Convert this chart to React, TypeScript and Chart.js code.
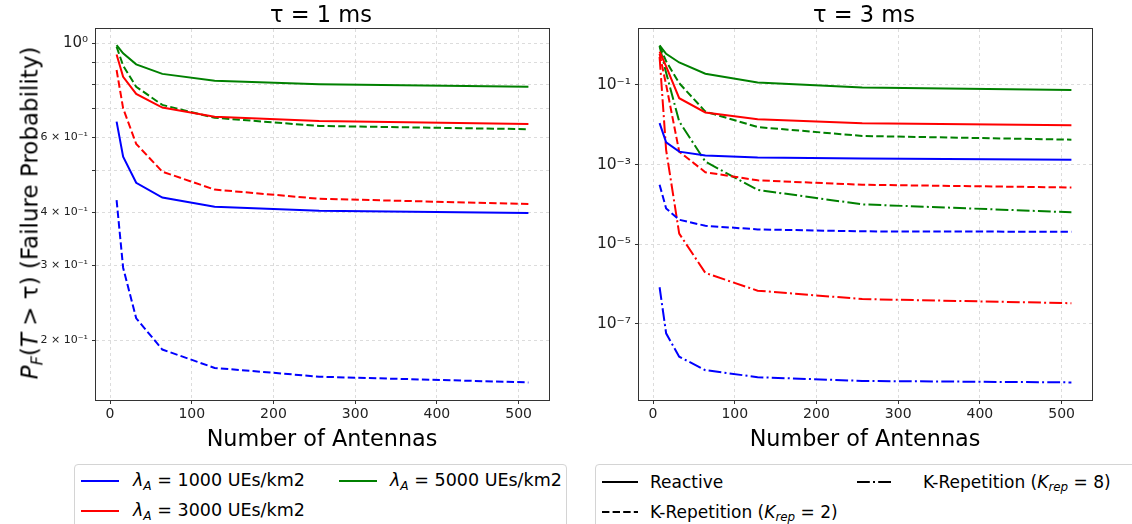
import React, { useEffect, useRef } from "react";
import { Chart, registerables } from "chart.js";
Chart.register(...registerables);

// ---------- data ----------
const antennas = [8, 16, 32, 64, 128, 256, 512];

// tau = 1 ms
const reactive1000_1ms = [0.653, 0.54, 0.469, 0.433, 0.412, 0.403, 0.398];
const reactive3000_1ms = [0.94, 0.833, 0.759, 0.705, 0.671, 0.655, 0.645];
const reactive5000_1ms = [0.989, 0.946, 0.891, 0.846, 0.815, 0.8, 0.789];
const krep2_1000_1ms = [0.427, 0.296, 0.225, 0.19, 0.172, 0.164, 0.159];
const krep2_3000_1ms = [0.864, 0.702, 0.579, 0.498, 0.452, 0.43, 0.418];
const krep2_5000_1ms = [0.98, 0.885, 0.789, 0.715, 0.667, 0.638, 0.627];

// tau = 3 ms
const reactive1000_3ms = [0.0109, 0.0036, 0.0021, 0.00168, 0.00149, 0.00141, 0.00131];
const reactive3000_3ms = [0.68, 0.29, 0.046, 0.0202, 0.01375, 0.0109, 0.0097];
const reactive5000_3ms = [0.98, 0.6, 0.363, 0.189, 0.114, 0.0855, 0.0735];
const krep2_1000_3ms = [3.1e-4, 7.9e-5, 4.1e-5, 2.9e-5, 2.35e-5, 2.1e-5, 2.05e-5];
const krep2_3000_3ms = [0.6, 0.1, 0.0021, 6.4e-4, 4.0e-4, 3.1e-4, 2.65e-4];
const krep2_5000_3ms = [0.95, 0.39, 0.11, 0.0213, 0.0087, 0.0052, 0.0042];
const krep8_1000_3ms = [8.3e-7, 5.8e-8, 1.5e-8, 6.9e-9, 4.6e-9, 3.7e-9, 3.4e-9];
const krep8_3000_3ms = [0.5, 2.3e-3, 1.85e-5, 1.9e-6, 6.8e-7, 4.2e-7, 3.3e-7];
const krep8_5000_3ms = [0.92, 0.2, 0.012, 0.00118, 0.00023, 1.0e-4, 6.3e-5];

// ticks
const xTicks = [0, 100, 200, 300, 400, 500];
const leftYTicks = [0.2, 0.3, 0.4, 0.5, 0.6, 0.7, 0.8, 0.9, 1];
const leftYTickLabels = ["2 × 10⁻¹", "3 × 10⁻¹", "4 × 10⁻¹", "", "6 × 10⁻¹", "", "", "", "10⁰"];
const rightYTicks = [1e-7, 1e-5, 1e-3, 1e-1];
const rightYTickLabels = ["10⁻⁷", "10⁻⁵", "10⁻³", "10⁻¹"];

const titles = ["τ = 1 ms", "τ = 3 ms"];
const xTitle = "Number of Antennas";

// ---------- styles ----------
const FONT = "'DejaVu Sans', sans-serif";
const BLUE = "#0000ff";
const RED = "#ff0000";
const GREEN = "#008000";
const SOLID: number[] = [];
const DASHED = [7.4, 3.2];
const DASHDOT = [12.8, 3.2, 2, 3.2];

const mk = (vals: number[], color: string, dash: number[]) => ({
  data: antennas.map((x, i) => ({ x, y: vals[i] })),
  borderColor: color,
  backgroundColor: color,
  borderWidth: 2,
  borderDash: dash,
  pointRadius: 0,
  fill: false,
  tension: 0,
});

const framePlugin = {
  id: "frame",
  afterDatasetsDraw(chart: any) {
    const { ctx, chartArea: a } = chart;
    ctx.save();
    ctx.strokeStyle = "#333";
    ctx.lineWidth = 1;
    ctx.setLineDash([]);
    ctx.strokeRect(a.left - 0.5, a.top - 0.5, a.width + 1, a.height + 1);
    ctx.restore();
  },
};

function makeConfig(
  datasets: any[],
  yMin: number,
  yMax: number,
  yTicks: number[],
  yLabels: string[],
  yFont: (v: number) => number,
  yWidth: number,
  padRight: number
): any {
  return {
    type: "line",
    data: { datasets },
    plugins: [framePlugin],
    options: {
      animation: false,
      responsive: false,
      maintainAspectRatio: false,
      layout: { padding: { left: 0, top: 29, right: padRight, bottom: 22 } },
      plugins: { legend: { display: false }, tooltip: { enabled: false }, title: { display: false } },
      scales: {
        x: {
          type: "linear",
          min: -17.2,
          max: 537.2,
          bounds: "data",
          afterBuildTicks: (s: any) => {
            s.ticks = xTicks.map((v) => ({ value: v }));
          },
          afterFit: (s: any) => {
            s.height = 30;
          },
          ticks: {
            autoSkip: false,
            maxRotation: 0,
            padding: 2,
            color: "#222",
            font: { family: FONT, size: 14 },
            callback: (v: number) => String(v),
          },
          grid: {
            color: "#dcdcdc",
            lineWidth: 1,
            drawTicks: true,
            tickLength: 4,
            tickColor: "#333",
            tickWidth: 1,
            tickBorderDash: [],
          },
          border: { display: false, dash: [3, 3] },
        },
        y: {
          type: "logarithmic",
          min: yMin,
          max: yMax,
          bounds: "data",
          afterBuildTicks: (s: any) => {
            s.ticks = yTicks.map((v) => ({ value: v }));
          },
          afterFit: (s: any) => {
            s.width = yWidth;
          },
          ticks: {
            autoSkip: false,
            padding: 4,
            color: "#222",
            font: (ctx: any) => ({ family: FONT, size: yFont(ctx.tick ? ctx.tick.value : 1) }),
            callback: (_v: number, i: number) => yLabels[i],
          },
          grid: {
            color: "#dcdcdc",
            lineWidth: 1,
            drawTicks: true,
            tickLength: 4,
            tickColor: "#333",
            tickWidth: 1,
            tickBorderDash: [],
          },
          border: { display: false, dash: [3, 3] },
        },
      },
    },
  };
}

const LineSample = ({ color, dash, width = 38 }: { color: string; dash: number[]; width?: number }) => (
  <svg width={width} height={6} style={{ display: "block" }}>
    <line
      x1={0}
      y1={3}
      x2={width}
      y2={3}
      stroke={color}
      strokeWidth={2}
      strokeDasharray={dash.length ? dash.join(",") : undefined}
    />
  </svg>
);

const sub: React.CSSProperties = { fontSize: "70%", verticalAlign: "-0.3em", lineHeight: 0 };

export default function App() {
  const leftRef = useRef<HTMLCanvasElement | null>(null);
  const rightRef = useRef<HTMLCanvasElement | null>(null);

  useEffect(() => {
    const leftSets = [
      mk(reactive1000_1ms, BLUE, SOLID),
      mk(reactive3000_1ms, RED, SOLID),
      mk(reactive5000_1ms, GREEN, SOLID),
      mk(krep2_1000_1ms, BLUE, DASHED),
      mk(krep2_3000_1ms, RED, DASHED),
      mk(krep2_5000_1ms, GREEN, DASHED),
    ];
    const rightSets = [
      mk(reactive1000_3ms, BLUE, SOLID),
      mk(reactive3000_3ms, RED, SOLID),
      mk(reactive5000_3ms, GREEN, SOLID),
      mk(krep2_1000_3ms, BLUE, DASHED),
      mk(krep2_3000_3ms, RED, DASHED),
      mk(krep2_5000_3ms, GREEN, DASHED),
      mk(krep8_1000_3ms, BLUE, DASHDOT),
      mk(krep8_3000_3ms, RED, DASHDOT),
      mk(krep8_5000_3ms, GREEN, DASHDOT),
    ];
    const c1 = new Chart(
      leftRef.current as HTMLCanvasElement,
      makeConfig(leftSets, Math.pow(10, -0.84), Math.pow(10, 0.033), leftYTicks, leftYTickLabels,
        (v) => (v === 1 ? 15 : 11), 96, 21)
    );
    const c2 = new Chart(
      rightRef.current as HTMLCanvasElement,
      makeConfig(rightSets, Math.pow(10, -8.91), Math.pow(10, 0.4), rightYTicks, rightYTickLabels,
        () => 15.5, 69, 40)
    );
    return () => {
      c1.destroy();
      c2.destroy();
    };
  }, []);

  const abs = (s: React.CSSProperties): React.CSSProperties => ({ position: "absolute", ...s });
  const textBase: React.CSSProperties = { fontFamily: FONT, color: "#000", whiteSpace: "nowrap", lineHeight: 1 };

  return (
    <div style={{ position: "fixed", left: 0, top: 0, width: 1132, height: 524, overflow: "hidden", background: "#fff" }}>
      <canvas ref={leftRef} width={570} height={452} style={abs({ left: 0, top: 0, width: 570, height: 452 })} />
      <canvas ref={rightRef} width={562} height={452} style={abs({ left: 570, top: 0, width: 562, height: 452 })} />

      {/* titles */}
      <div style={abs({ ...textBase, left: 321, top: 14, fontSize: 22.5, transform: "translate(-50%,-50%)" })}>{titles[0]}</div>
      <div style={abs({ ...textBase, left: 864, top: 14, fontSize: 22.5, transform: "translate(-50%,-50%)" })}>{titles[1]}</div>

      {/* x titles */}
      <div style={abs({ ...textBase, left: 322, top: 438, fontSize: 22.3, transform: "translate(-50%,-50%)" })}>{xTitle}</div>
      <div style={abs({ ...textBase, left: 865, top: 438, fontSize: 22.3, transform: "translate(-50%,-50%)" })}>{xTitle}</div>

      {/* y title */}
      <div style={abs({ ...textBase, left: 30, top: 213, fontSize: 23, transform: "translate(-50%,-50%) rotate(-90deg)" })}>
        <i>P</i><span style={sub}><i>F</i></span>(<i>T</i> &gt; τ) (Failure Probability)
      </div>

      {/* left legend */}
      <div style={abs({ left: 74, top: 464, width: 493, height: 80, border: "1px solid #d4d4d4", borderRadius: 4, background: "#fff", boxSizing: "border-box" })} />
      <div style={abs({ left: 81, top: 478 })}><LineSample color={BLUE} dash={SOLID} /></div>
      <div style={abs({ ...textBase, left: 133, top: 481, fontSize: 17.5, transform: "translateY(-50%)" })}>
        <i>λ</i><span style={sub}><i>A</i></span> = 1000 UEs/km2
      </div>
      <div style={abs({ left: 81, top: 508 })}><LineSample color={RED} dash={SOLID} /></div>
      <div style={abs({ ...textBase, left: 133, top: 511, fontSize: 17.5, transform: "translateY(-50%)" })}>
        <i>λ</i><span style={sub}><i>A</i></span> = 3000 UEs/km2
      </div>
      <div style={abs({ left: 339, top: 478 })}><LineSample color={GREEN} dash={SOLID} /></div>
      <div style={abs({ ...textBase, left: 390, top: 481, fontSize: 17.5, transform: "translateY(-50%)" })}>
        <i>λ</i><span style={sub}><i>A</i></span> = 5000 UEs/km2
      </div>

      {/* right legend */}
      <div style={abs({ left: 595, top: 464, width: 560, height: 80, border: "1px solid #d4d4d4", borderRadius: 4, background: "#fff", boxSizing: "border-box" })} />
      <div style={abs({ left: 602, top: 478.5 })}><LineSample color="#000" dash={SOLID} width={36} /></div>
      <div style={abs({ ...textBase, left: 650, top: 481.5, fontSize: 17, transform: "translateY(-50%)" })}>Reactive</div>
      <div style={abs({ left: 602, top: 508.5 })}><LineSample color="#000" dash={DASHED} width={36} /></div>
      <div style={abs({ ...textBase, left: 650, top: 511.5, fontSize: 17, transform: "translateY(-50%)" })}>
        K-Repetition (<i>K</i><span style={sub}><i>rep</i></span> = 2)
      </div>
      <div style={abs({ left: 857, top: 478.5 })}><LineSample color="#000" dash={DASHDOT} width={36} /></div>
      <div style={abs({ ...textBase, left: 923, top: 481.5, fontSize: 17, transform: "translateY(-50%)" })}>
        K-Repetition (<i>K</i><span style={sub}><i>rep</i></span> = 8)
      </div>
    </div>
  );
}
